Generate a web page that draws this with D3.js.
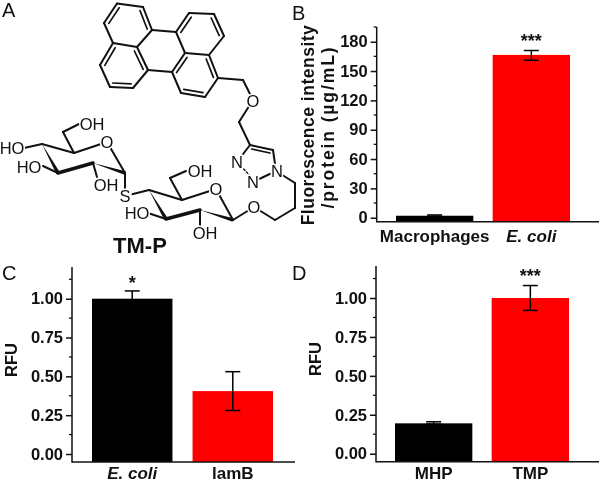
<!DOCTYPE html>
<html>
<head>
<meta charset="utf-8">
<script src="https://cdn.jsdelivr.net/npm/d3@7"></script>
<style>
  html, body { margin: 0; padding: 0; background: #fff; }
  svg { display: block; filter: blur(0.35px); }
  text { font-family: "Liberation Sans", Arial, sans-serif; fill: #111; }
</style>
</head>
<body>
<svg id="chart" width="600" height="483"></svg>
<script>
// Panel B data
const bCategories = ['Macrophages', 'E. coli'];
const bValues = [2, 166.5];
const bErrLow = [1.5, 161];
const bErrHigh = [2.8, 171];
const bTicks = [0, 30, 60, 90, 120, 150, 180];

// Panel C data
const cCategories = ['E. coli', 'lamB'];
const cValues = [1, 0.405];
const cErrLow = [0.95, 0.28];
const cErrHigh = [1.05, 0.53];

// Panel D data
const dCategories = ['MHP', 'TMP'];
const dValues = [0.195, 1];
const dErrLow = [0.19, 0.92];
const dErrHigh = [0.205, 1.08];
const rfuTicks = [0, 0.25, 0.5, 0.75, 1];

const barColors = ['#000000', '#ff0000'];

// Molecule drawing (panel A): atom positions, then bonds between them
const atoms = {
  a1: [117, 3.5], a2: [143, 7], a3: [152, 30], a4: [137, 47], a5: [113, 43], a6: [104, 23],
  a7: [148, 70], a8: [133, 88], a9: [110, 87], a10: [100, 65],
  b1: [176, 32], b2: [189, 13], b3: [214, 14], b4: [224, 36], b5: [209, 55], b6: [185, 53],
  b7: [218, 78], b8: [205, 97], b9: [181, 93], b10: [172, 72],
  ch1: [243, 80], o1: [253, 100], ch2: [239, 122],
  t1: [250, 145], t2: [273, 150], n1: [276, 171], n2: [253, 182], n3: [237, 162],
  p1: [295, 183], p2: [295, 208], p3: [275, 220], o2: [254, 207],
  g1: [233, 220], go: [216, 189], g5: [182, 200], g4: [149, 190], g3: [166, 219], g2: [200, 210],
  g6: [170, 178], goh6: [186, 171], goh3: [148, 213], goh2: [200, 225], s: [125, 196],
  h1: [125, 173], ho: [107, 142], h5: [74, 153], h4: [42, 144], h3: [58, 173], h2: [93, 163],
  h6: [63, 132], hoh6: [79, 124], hoh4: [24, 148], hoh3: [43, 166], hoh2: [97, 177]
};
const singleBonds = [
  ['a1', 'a2'], ['a3', 'a4'], ['a4', 'a5'], ['a5', 'a6'], ['a7', 'a8'], ['a9', 'a10'],
  ['a3', 'b1'], ['a7', 'b10'],
  ['b2', 'b3'], ['b4', 'b5'], ['b5', 'b6'], ['b6', 'b1'], ['b7', 'b8'], ['b9', 'b10'],
  ['b7', 'ch1'], ['ch1', 'o1'], ['o1', 'ch2'], ['ch2', 't1'],
  ['t1', 'n3'], ['t2', 'n1'], ['n1', 'n2'], ['n1', 'p1'], ['p1', 'p2'], ['p2', 'p3'], ['p3', 'o2'],
  ['o2', 'g1'], ['g1', 'go'], ['go', 'g5'], ['g5', 'g4'], ['g5', 'g6'], ['g6', 'goh6'],
  ['g3', 'goh3'], ['g2', 'goh2'], ['g4', 's'], ['s', 'h1'],
  ['h1', 'ho'], ['ho', 'h5'], ['h5', 'h4'], ['h5', 'h6'], ['h6', 'hoh6'],
  ['h4', 'hoh4'], ['h3', 'hoh3'], ['h2', 'hoh2']
];
// third value: ring centre the inner line leans toward
const doubleBonds = [
  ['a6', 'a1', [128, 25]], ['a2', 'a3', [128, 25]],
  ['a10', 'a5', [124, 67]], ['a4', 'a7', [124, 67]], ['a8', 'a9', [124, 67]],
  ['b1', 'b2', [200, 34]], ['b3', 'b4', [200, 34]],
  ['b5', 'b7', [195, 75]], ['b8', 'b9', [195, 75]], ['b10', 'b6', [195, 75]],
  ['t1', 't2', [258, 165]]
];
const wedgeBonds = [['h4', 'h3'], ['h2', 'h1'], ['g4', 'g3'], ['g2', 'g1']];
const thickBonds = [['h3', 'h2'], ['g3', 'g2']];
const atomLabels = [
  ['O', 253, 101], ['N', 277, 171], ['N', 253, 182], ['N', 237, 162],
  ['O', 254, 207], ['O', 216, 189], ['S', 125, 196], ['O', 107, 142],
  ['OH', 200, 171], ['HO', 137, 213], ['OH', 205, 233],
  ['OH', 92, 124], ['HO', 12, 148], ['HO', 29, 167], ['OH', 106, 185]
];

const svg = d3.select('#chart');

// Draw one bar panel with its axes, error bars and labels
function drawPanel(opts) {
  const y = d3.scaleLinear().domain(opts.domain).range([opts.zeroY, opts.topY]);
  const x = d3.scaleBand().domain(opts.categories).range(opts.barRange).paddingInner(0.2);
  const g = svg.append('g');

  g.selectAll('rect.bar')
    .data(opts.categories)
    .enter().append('rect')
    .attr('class', 'bar')
    .attr('x', d => x(d))
    .attr('width', x.bandwidth())
    .attr('y', (d, i) => y(opts.values[i]))
    .attr('height', (d, i) => opts.baseY - y(opts.values[i]))
    .attr('fill', (d, i) => barColors[i]);

  // Error bars
  opts.categories.forEach((c, i) => {
    const cx = x(c) + x.bandwidth() / 2;
    const lo = y(opts.errLow[i]);
    const hi = y(opts.errHigh[i]);
    const capW = 7.5;
    g.append('line').attr('x1', cx).attr('x2', cx).attr('y1', lo).attr('y2', hi)
      .attr('stroke', '#000').attr('stroke-width', 1.5);
    [lo, hi].forEach(v => {
      g.append('line').attr('x1', cx - capW).attr('x2', cx + capW).attr('y1', v).attr('y2', v)
        .attr('stroke', '#000').attr('stroke-width', 1.5);
    });
  });

  // y axis
  const axis = d3.axisLeft(y).tickValues(opts.ticks).tickSize(6).tickPadding(3).tickFormat(opts.format);
  const yAxis = g.append('g').attr('transform', `translate(${opts.axisX},0)`).call(axis);
  yAxis.select('.domain').remove();
  yAxis.selectAll('.tick line').attr('stroke', '#111').attr('stroke-width', 1.5);
  yAxis.selectAll('.tick text')
    .style('font-size', '16.5px').style('font-weight', 'bold').attr('fill', '#111');

  // minor ticks halfway between the labelled ones
  const step = opts.ticks[1] - opts.ticks[0];
  const minors = opts.ticks.map(t => t + step / 2);
  g.selectAll('line.minor')
    .data(minors)
    .enter().append('line')
    .attr('x1', opts.axisX - 3).attr('x2', opts.axisX)
    .attr('y1', d => y(d)).attr('y2', d => y(d))
    .attr('stroke', '#111').attr('stroke-width', 1.3);

  // Axis lines
  g.append('line').attr('x1', opts.axisX).attr('x2', opts.axisX)
    .attr('y1', opts.axisTop).attr('y2', opts.baseY + 0.7)
    .attr('stroke', '#111').attr('stroke-width', 1.5);
  g.append('line').attr('x1', opts.axisX).attr('x2', opts.axisEnd)
    .attr('y1', opts.baseY).attr('y2', opts.baseY)
    .attr('stroke', '#111').attr('stroke-width', 1.5);

  // Category labels
  g.selectAll('text.cat')
    .data(opts.categories)
    .enter().append('text')
    .attr('class', 'cat')
    .attr('x', d => x(d) + x.bandwidth() / 2)
    .attr('y', opts.catY)
    .attr('text-anchor', 'middle')
    .style('font-size', '17px')
    .style('font-weight', 'bold')
    .style('font-style', d => d === 'E. coli' ? 'italic' : 'normal')
    .text(d => d);

  // Significance stars
  g.append('text')
    .attr('x', x(opts.stars.category) + x.bandwidth() / 2)
    .attr('y', opts.stars.y)
    .attr('text-anchor', 'middle')
    .style('font-size', '18px')
    .style('font-weight', 'bold')
    .text(opts.stars.text);
}

drawPanel({
  categories: bCategories, values: bValues, errLow: bErrLow, errHigh: bErrHigh, ticks: bTicks,
  format: d3.format('d'), domain: [0, 180], zeroY: 217.7, topY: 41.7, baseY: 221.7,
  axisX: 376.7, axisTop: 27, axisEnd: 599, barRange: [396, 570], catY: 242,
  stars: { category: 'E. coli', y: 47, text: '***' }
});
drawPanel({
  categories: cCategories, values: cValues, errLow: cErrLow, errHigh: cErrHigh, ticks: rfuTicks,
  format: d3.format('.2f'), domain: [0, 1], zeroY: 454, topY: 298.7, baseY: 462,
  axisX: 72, axisTop: 267, axisEnd: 295, barRange: [92, 273], catY: 479,
  stars: { category: 'E. coli', y: 289, text: '*' }
});
drawPanel({
  categories: dCategories, values: dValues, errLow: dErrLow, errHigh: dErrHigh, ticks: rfuTicks,
  format: d3.format('.2f'), domain: [0, 1], zeroY: 453.7, topY: 298, baseY: 461.7,
  axisX: 376, axisTop: 266, axisEnd: 599, barRange: [395, 569], catY: 479,
  stars: { category: 'TMP', y: 282, text: '***' }
});

// Rotated axis titles
function yTitle(label, px, py, size, spacing) {
  svg.append('text')
    .attr('transform', `translate(${px},${py}) rotate(-90)`)
    .attr('text-anchor', 'middle')
    .style('font-size', size + 'px')
    .style('font-weight', 'bold')
    .style('letter-spacing', spacing + 'px')
    .text(label);
}
yTitle('Fluorescence intensity', 314, 125, 17.5, 0.5);
yTitle('/protein (\u00b5g/mL)', 334, 127, 17.5, 1.9);
yTitle('RFU', 17, 360, 16.5, 0);
yTitle('RFU', 321, 359, 16.5, 0);

// Panel letters
[['A', 2, 17], ['B', 292, 20], ['C', 2, 280], ['D', 292, 280]].forEach(d => {
  svg.append('text').attr('x', d[1]).attr('y', d[2]).style('font-size', '20px').text(d[0]);
});

// Molecule
const mol = svg.append('g').attr('stroke', '#111').attr('stroke-linecap', 'round').attr('fill', 'none');
mol.selectAll('line.single')
  .data(singleBonds)
  .enter().append('line')
  .attr('class', 'single')
  .attr('x1', d => atoms[d[0]][0]).attr('y1', d => atoms[d[0]][1])
  .attr('x2', d => atoms[d[1]][0]).attr('y2', d => atoms[d[1]][1])
  .attr('stroke-width', 2);

doubleBonds.forEach(d => {
  const p = atoms[d[0]], q = atoms[d[1]], c = d[2];
  mol.append('line').attr('x1', p[0]).attr('y1', p[1]).attr('x2', q[0]).attr('y2', q[1])
    .attr('stroke-width', 2);
  // inner line pulled toward the ring centre
  const k = 0.2;
  const px = p[0] + (c[0] - p[0]) * k, py = p[1] + (c[1] - p[1]) * k;
  const qx = q[0] + (c[0] - q[0]) * k, qy = q[1] + (c[1] - q[1]) * k;
  mol.append('line').attr('x1', px).attr('y1', py).attr('x2', qx).attr('y2', qy)
    .attr('stroke-width', 1.7);
});

thickBonds.forEach(d => {
  mol.append('line')
    .attr('x1', atoms[d[0]][0]).attr('y1', atoms[d[0]][1])
    .attr('x2', atoms[d[1]][0]).attr('y2', atoms[d[1]][1])
    .attr('stroke-width', 3.4);
});

wedgeBonds.forEach(d => {
  const p = atoms[d[0]], q = atoms[d[1]];
  const dx = q[0] - p[0], dy = q[1] - p[1], len = Math.hypot(dx, dy);
  const nx = -dy / len * 1.9, ny = dx / len * 1.9;
  mol.append('path')
    .attr('d', `M${p[0]},${p[1]}L${q[0] + nx},${q[1] + ny}L${q[0] - nx},${q[1] - ny}Z`)
    .attr('fill', '#111').attr('stroke', 'none');
});

// dashed N=N of the triazole
mol.append('line')
  .attr('x1', atoms.n3[0] + 4).attr('y1', atoms.n3[1] + 4)
  .attr('x2', atoms.n2[0] - 2).attr('y2', atoms.n2[1] - 5)
  .attr('stroke-width', 1.4).attr('stroke-dasharray', '2 2');

// white disc hides the bond ends behind the one-letter atom labels
svg.selectAll('circle.atom-bg')
  .data(atomLabels.filter(d => d[0].length === 1))
  .enter().append('circle')
  .attr('class', 'atom-bg')
  .attr('cx', d => d[1]).attr('cy', d => d[2])
  .attr('r', 7)
  .attr('fill', '#fff');

svg.selectAll('text.atom')
  .data(atomLabels)
  .enter().append('text')
  .attr('class', 'atom')
  .attr('x', d => d[1]).attr('y', d => d[2])
  .attr('dy', '0.36em')
  .attr('text-anchor', 'middle')
  .style('font-size', '16.5px')
  .style('paint-order', 'stroke')
  .style('stroke', '#fff')
  .style('stroke-width', '3px')
  .text(d => d[0]);

svg.append('text')
  .attr('x', 140).attr('y', 253)
  .attr('text-anchor', 'middle')
  .style('font-size', '22px')
  .style('font-weight', 'bold')
  .text('TM-P');
</script>
</body>
</html>
